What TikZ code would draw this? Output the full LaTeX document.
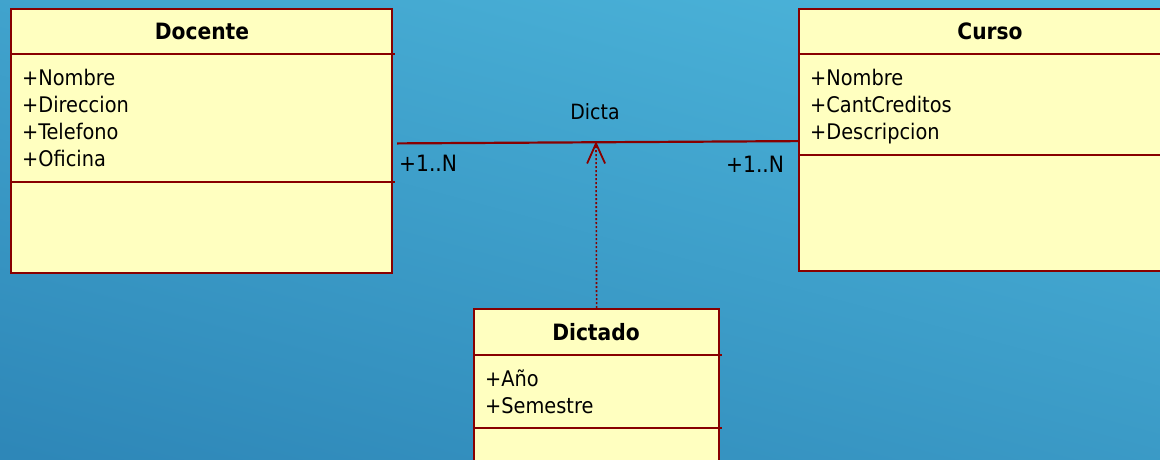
\documentclass[tikz,border=0pt]{standalone}
\usepackage{fontspec}
\setmainfont{DejaVu Sans Condensed}
\usetikzlibrary{arrows.meta}
\definecolor{bgtop}{HTML}{4DB6DB}
\definecolor{bgbot}{HTML}{2E87B8}
\definecolor{boxfill}{HTML}{FFFFC0}
\definecolor{boxline}{HTML}{880000}
\tikzset{
  classbox/.style={draw=boxline, fill=boxfill, line width=2.2pt, inner sep=0pt, anchor=north west},
  sepline/.style={draw=boxline, line width=2.2pt},
  classtitle/.style={inner sep=0pt, anchor=base, font=\fontsize{22.5}{26}\selectfont\bfseries, text=black},
  attr/.style={inner sep=0pt, anchor=base west, font=\fontsize{21.5}{27}\selectfont, text=black},
  assoc/.style={draw=boxline, line width=2.2pt},
  depend/.style={draw=boxline, line width=1.6pt, dash pattern=on 2pt off 2pt,
    -{Straight Barb[length=20pt, width=18pt, line width=1.8pt]}},
  lbl/.style={inner sep=0pt, font=\fontsize{21}{27}\selectfont, text=black},
  mult/.style={inner sep=0pt, anchor=base west, font=\fontsize{22.5}{27}\selectfont, text=black},
}
\begin{document}
\begin{tikzpicture}[x=1pt, y=-1pt]
\useasboundingbox (0,0) rectangle (1160,459);
\shade[top color=bgtop, bottom color=bgbot, shading angle=-15] (-60,-60) rectangle (1220,520);

% Docente
\node[classbox, minimum width=381pt, minimum height=264pt] (docente) at (10,8) {};
\draw[sepline] ([yshift=-46pt]docente.north west) -- ([yshift=-46pt, xshift=2pt]docente.north east);
\draw[sepline] ([yshift=-174pt]docente.north west) -- ([yshift=-174pt, xshift=2pt]docente.north east);
\node[classtitle] (docT) at (202,39) {Docente};
\node[attr] (docA1) at (22,85) {+Nombre};
\node[attr] (docA2) at (22,112) {+Direccion};
\node[attr] (docA3) at (22,139) {+Telefono};
\node[attr] (docA4) at (22,166) {+Oficina};

% Curso
\node[classbox, minimum width=384pt, minimum height=262pt] (curso) at (798,8) {};
\draw[sepline] ([yshift=-46pt]curso.north west) -- ([yshift=-46pt]curso.north east);
\draw[sepline] ([yshift=-147pt]curso.north west) -- ([yshift=-147pt]curso.north east);
\node[classtitle] (curT) at (990,39) {Curso};
\node[attr] (curA1) at (810,85) {+Nombre};
\node[attr] (curA2) at (810,112) {+CantCreditos};
\node[attr] (curA3) at (810,139) {+Descripcion};

% Dictado
\node[classbox, minimum width=245pt, minimum height=180pt] (dictado) at (473,308) {};
\draw[sepline] ([yshift=-47pt]dictado.north west) -- ([yshift=-47pt, xshift=2pt]dictado.north east);
\draw[sepline] ([yshift=-120pt]dictado.north west) -- ([yshift=-120pt, xshift=2pt]dictado.north east);
\node[classtitle] (dicT) at (596,340) {Dictado};
\node[attr] (dicA1) at (485,386) {+Año};
\node[attr] (dicA2) at (485,413) {+Semestre};

% Association
\draw[assoc] ([xshift=4pt, yshift=-2.3pt]docente.east) -- ([yshift=-1pt]curso.west);
\node[lbl, anchor=base] (dicta) at (595,119) {Dicta};
\node[mult] (m1) at (399,171) {+1..N};
\node[mult] (m2) at (726,172) {+1..N};

% Dependency to association
\coordinate (apt) at (596,141.3);
\draw[depend] (dictado.north) -- (apt);
\end{tikzpicture}
\end{document}
